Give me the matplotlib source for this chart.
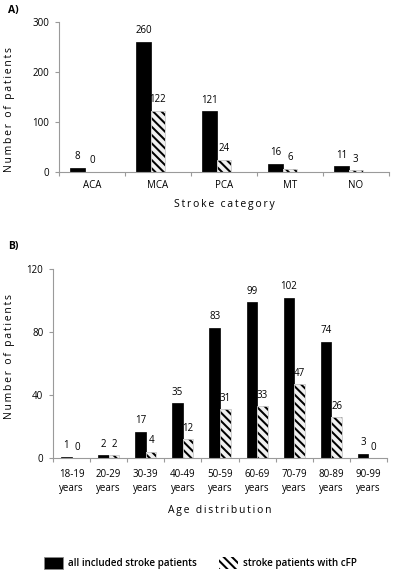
import matplotlib
matplotlib.use("Agg")
import matplotlib.pyplot as plt
import numpy as np
from matplotlib.patches import Patch

plt.rcParams['font.family'] = ['Open Sans', 'DejaVu Sans']
plt.rcParams['hatch.linewidth'] = 1.45

# Panel A data
stroke_categories = ["ACA", "MCA", "PCA", "MT", "NO"]
stroke_all = [8, 260, 121, 16, 11]
stroke_cfp = [0, 122, 24, 6, 3]

# Panel B data
age_groups = ["18-19\nyears", "20-29\nyears", "30-39\nyears", "40-49\nyears", "50-59\nyears",
              "60-69\nyears", "70-79\nyears", "80-89\nyears", "90-99\nyears"]
age_all = [1, 2, 17, 35, 83, 99, 102, 74, 3]
age_cfp = [0, 2, 4, 12, 31, 33, 47, 26, 0]

legend_labels = ["all included stroke patients", "stroke patients with cFP"]

HATCH = "\\\\\\\\"

TS = "\u2009"
def spaced(s):
    return TS.join(list(s))

fig = plt.figure(figsize=(3.99, 5.77), dpi=100)
axA = fig.add_axes([0.1479, 0.7024, 0.8265, 0.2600])
axB = fig.add_axes([0.1328, 0.2057, 0.8372, 0.3276])

AX_COLOR = "#9a9a9a"
FS = 7

def style(ax, n, yticks, ymax, xpad):
    for s in ["top", "right"]:
        ax.spines[s].set_visible(False)
    for s in ["left", "bottom"]:
        ax.spines[s].set_color(AX_COLOR)
        ax.spines[s].set_linewidth(0.8)
    ax.set_xlim(-0.5, n - 0.5)
    ax.set_ylim(0, ymax)
    ax.set_yticks(yticks)
    ax.set_xticks(np.arange(n))
    ax.set_xticks(np.arange(n + 1) - 0.5, minor=True)
    ax.tick_params(axis="x", which="major", length=0, labelsize=FS, pad=xpad)
    ax.tick_params(axis="x", which="minor", length=3, color=AX_COLOR, width=0.8)
    ax.tick_params(axis="y", length=3, color=AX_COLOR, width=0.8, labelsize=FS, pad=4)

def bars(ax, x_all, x_cfp, w, vals_all, vals_cfp):
    ax.bar(x_all, vals_all, width=w, color="black", edgecolor="black", linewidth=0.5)
    ax.bar(x_cfp, vals_cfp, width=w, color="#f0f0f0", edgecolor="black", hatch=HATCH, linewidth=0)
    ax.bar(x_cfp, vals_cfp, width=w, fill=False, edgecolor="#c8c8c8", linewidth=0.6)
    for x, v in zip(x_all, vals_all):
        ax.annotate(str(v), (x, v), xytext=(0, 4), textcoords="offset points",
                    ha="center", va="bottom", fontsize=FS)
    for x, v in zip(x_cfp, vals_cfp):
        ax.annotate(str(v), (x, v), xytext=(0, 4), textcoords="offset points",
                    ha="center", va="bottom", fontsize=FS)

# Panel A
nA = len(stroke_categories)
wA = 0.218
xA = np.arange(nA)
bars(axA, xA - wA, xA, wA, stroke_all, stroke_cfp)
style(axA, nA, [0, 100, 200, 300], 300, 6)
axA.set_xticklabels(stroke_categories)
axA.set_xlabel(spaced("Stroke category"), fontsize=7.5, labelpad=6)
axA.set_ylabel(spaced("Number of patients"), fontsize=7.5)
axA.yaxis.set_label_coords(-0.133, 0.418)

# Panel B
nB = len(age_groups)
wB = 0.285
xB = np.arange(nB)
bars(axB, xB - wB / 2, xB + wB / 2, wB, age_all, age_cfp)
style(axB, nB, [0, 40, 80, 120], 120, 8)
axB.set_xticklabels(age_groups, linespacing=1.3)
axB.set_xlabel(spaced("Age distribution"), fontsize=7.5, labelpad=8)
axB.set_ylabel(spaced("Number of patients"), fontsize=7.5)
axB.yaxis.set_label_coords(-0.114, 0.536)

fig.text(0.02, 0.981, "A)", fontsize=7.5, fontweight="bold", va="center", ha="left")
fig.text(0.02, 0.572, "B)", fontsize=7.5, fontweight="bold", va="center", ha="left")

handles = [Patch(facecolor="black", edgecolor="#888888", linewidth=0.6),
           Patch(facecolor="white", edgecolor="black", hatch=HATCH, linewidth=0)]
fig.legend(handles, legend_labels, loc="center", bbox_to_anchor=(0.502, 0.024), ncol=2,
           frameon=False, prop={"size": 7.1, "weight": "semibold"}, handlelength=1.9,
           handleheight=1.6, handletextpad=0.5, columnspacing=2.3)

fig.savefig("out.png", dpi=100)
